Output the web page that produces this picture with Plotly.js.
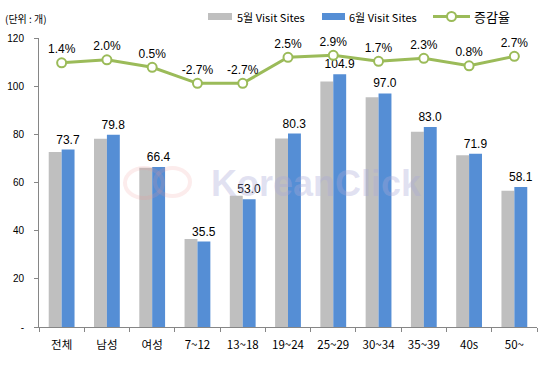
<!DOCTYPE html>
<html>
<head>
<meta charset="utf-8">
<script src="https://cdn.plot.ly/plotly-3.0.1.min.js"></script>
<style>html,body{margin:0;padding:0;background:#fff;}#chart{width:544px;height:365px;}</style>
</head>
<body>
<div id="chart"></div>
<script>
const categories = ["전체","남성","여성","7~12","13~18","19~24","25~29","30~34","35~39","40s","50~"];
const mayValues = [72.7, 78.2, 66.1, 36.5, 54.5, 78.3, 101.9, 95.4, 81.1, 71.3, 56.6];
const juneValues = [73.7, 79.8, 66.4, 35.5, 53.0, 80.3, 104.9, 97.0, 83.0, 71.9, 58.1];
const rateValues = [1.4, 2.0, 0.5, -2.7, -2.7, 2.5, 2.9, 1.7, 2.3, 0.8, 2.7];
const yTickVals = [0, 20, 40, 60, 80, 100, 120];
const yTickText = ["-", "20", "40", "60", "80", "100", "120"];
const seriesNames = ["5월 Visit Sites", "6월 Visit Sites", "증감율"];

const FONT = "'Liberation Sans', Arial, 'Noto Sans CJK KR', sans-serif";
const KFONT = "'Noto Sans CJK KR', 'Liberation Sans', sans-serif";
const GRAY = "#BFBFBF", BLUE = "#558ED5", GREEN = "#9BBB59";

// plot-area geometry (pixels) used only for legend placement in paper coords
const W = 544, H = 365, ML = 39, MR = 7, MT = 38, MB = 38;
const PW = W - ML - MR, PH = H - MT - MB;
const px = v => (v - ML) / PW;
const py = v => (H - MB - v) / PH;

const traces = [
  {
    type: "bar", name: seriesNames[0], x: categories, y: mayValues,
    marker: {color: GRAY}, hoverinfo: "skip"
  },
  {
    type: "bar", name: seriesNames[1], x: categories, y: juneValues,
    marker: {color: BLUE},
    text: juneValues.map(v => v.toFixed(1)), textposition: "outside", constraintext: "none",
    textfont: {family: FONT, size: 12, color: "#000"}, cliponaxis: false, hoverinfo: "skip"
  },
  {
    type: "scatter", mode: "lines+markers+text", name: seriesNames[2], x: categories, y: rateValues,
    yaxis: "y2",
    line: {color: GREEN, width: 3},
    marker: {size: 9, color: "#fff", line: {color: GREEN, width: 2}},
    text: rateValues.map(v => v.toFixed(1) + "%"), textposition: "top center",
    textfont: {family: FONT, size: 12, color: "#000"}, cliponaxis: false, hoverinfo: "skip"
  }
];

const legY = py(16.5);
const shapes = [
  {type: "rect", xref: "paper", yref: "paper", x0: px(208), x1: px(232), y0: py(20), y1: py(13), fillcolor: GRAY, line: {width: 0}},
  {type: "rect", xref: "paper", yref: "paper", x0: px(322), x1: px(345), y0: py(20), y1: py(13), fillcolor: BLUE, line: {width: 0}},
  {type: "line", xref: "paper", yref: "paper", x0: px(433), x1: px(470), y0: legY, y1: legY, line: {color: GREEN, width: 3}},
  {type: "circle", xref: "paper", yref: "paper", x0: px(447), x1: px(456), y0: py(21), y1: py(12), fillcolor: "#fff", line: {color: GREEN, width: 2}},
  // faint watermark logo rings
  {type: "circle", xref: "paper", yref: "paper", x0: px(125), x1: px(163), y0: py(198), y1: py(168), fillcolor: "rgba(0,0,0,0)", line: {color: "rgba(240,150,150,0.18)", width: 4}, layer: "above"},
  {type: "circle", xref: "paper", yref: "paper", x0: px(155), x1: px(190), y0: py(196), y1: py(168), fillcolor: "rgba(0,0,0,0)", line: {color: "rgba(240,150,150,0.18)", width: 4}, layer: "above"}
];

const layout = {
  width: W, height: H,
  margin: {l: ML, r: MR, t: MT, b: MB, autoexpand: false},
  paper_bgcolor: "#fff", plot_bgcolor: "#fff",
  font: {family: FONT, size: 11, color: "#000"},
  barmode: "group", bargap: 0.43, bargroupgap: 0,
  showlegend: false,
  xaxis: {
    type: "category", range: [-0.5, categories.length - 0.5],
    showline: true, linecolor: "#868686", linewidth: 1,
    ticks: "outside", tickson: "boundaries", ticklen: 4, tickcolor: "#868686",
    ticklabelstandoff: 7,
    tickfont: {family: KFONT, size: 11.5, color: "#000"}, showgrid: false, zeroline: false
  },
  yaxis: {
    range: [0, 120], tickvals: yTickVals, ticktext: yTickText,
    showline: true, linecolor: "#868686", linewidth: 1,
    ticks: "outside", ticklen: 4, tickcolor: "#868686",
    ticklabelstandoff: 8,
    tickfont: {family: FONT, size: 10, color: "#000"}, showgrid: false, zeroline: false
  },
  yaxis2: {
    overlaying: "y", side: "right", range: [-51.4, 6.36], visible: false, showgrid: false, zeroline: false
  },
  shapes: shapes,
  annotations: [
    {text: "(단위 : 개)", xref: "paper", yref: "paper", x: px(3), y: py(18), xanchor: "left", yanchor: "middle",
     showarrow: false, font: {family: KFONT, size: 10, color: "#000"}},
    {text: seriesNames[0], xref: "paper", yref: "paper", x: px(235), y: legY, xanchor: "left", yanchor: "middle",
     showarrow: false, font: {family: KFONT, size: 11, color: "#000"}},
    {text: seriesNames[1], xref: "paper", yref: "paper", x: px(347), y: legY, xanchor: "left", yanchor: "middle",
     showarrow: false, font: {family: KFONT, size: 11, color: "#000"}},
    {text: seriesNames[2], xref: "paper", yref: "paper", x: px(472), y: legY, xanchor: "left", yanchor: "middle",
     showarrow: false, font: {family: KFONT, size: 13, color: "#000"}},
    {text: "<b>KoreanClick</b>", xref: "paper", yref: "paper", x: px(316), y: py(183), xanchor: "center", yanchor: "middle",
     showarrow: false, font: {family: "'Liberation Sans', Arial, sans-serif", size: 36, color: "rgba(170,170,215,0.35)"}}
  ]
};

Plotly.newPlot("chart", traces, layout, {displayModeBar: false, staticPlot: true});
</script>
</body>
</html>
